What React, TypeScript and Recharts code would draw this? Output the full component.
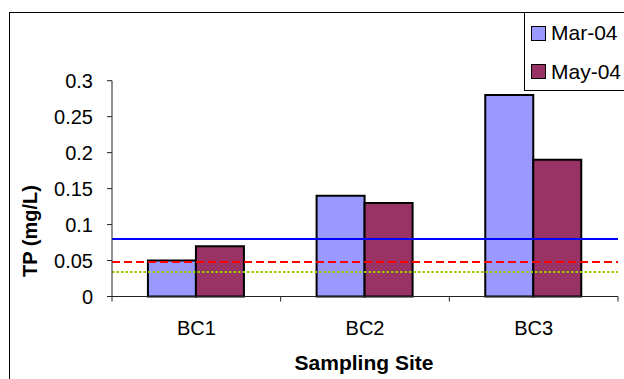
import React from 'react';
import { BarChart, Bar, XAxis, YAxis, ReferenceLine, Label } from 'recharts';

const sites = ['BC1', 'BC2', 'BC3'];
const mar04 = [0.05, 0.14, 0.28];
const may04 = [0.07, 0.13, 0.19];
const seriesNames = ['Mar-04', 'May-04'];
const seriesColors = ['#9999FF', '#993366'];
const yTicks = [0, 0.05, 0.1, 0.15, 0.2, 0.25, 0.3];
const blueLimit = 0.08;
const redLimit = 0.048;
const greenLimit = 0.034;

const data = sites.map((s, i) => ({ site: s, mar: mar04[i], may: may04[i] }));

const W = 624;
const H = 379;
const PLOT_LEFT = 112;
const PLOT_RIGHT = 618;
const FONT = 'Arial, "Liberation Sans", sans-serif';

const XTick = (props: any) => {
  const { x, y, payload, index } = props;
  const half = (PLOT_RIGHT - PLOT_LEFT) / sites.length / 2;
  return (
    <g>
      <line x1={x - half} x2={x - half} y1={y} y2={y + 5} stroke="#222" strokeWidth={1} />
      {index === sites.length - 1 && (
        <line x1={x + half} x2={x + half} y1={y} y2={y + 5} stroke="#222" strokeWidth={1} />
      )}
      <text x={x} y={y + 38.5} textAnchor="middle" fontSize={20} fontFamily={FONT} fill="#000">
        {payload.value}
      </text>
    </g>
  );
};

export default function App() {
  return (
    <div style={{ position: 'absolute', left: 0, top: 0, width: W, height: H, background: '#fff', overflow: 'hidden' }}>
      <BarChart
        width={W}
        height={H}
        data={data}
        margin={{ top: 80.7, right: W - PLOT_RIGHT, bottom: 42.5, left: 0 }}
        barCategoryGap="21.3%"
        barGap={0}
      >
        <XAxis
          dataKey="site"
          height={40}
          stroke="#222"
          tickLine={false}
          tickSize={0}
          tickMargin={0}
          tick={<XTick />}
          interval={0}
        >
          <Label
            content={() => (
              <text x={364} y={370} textAnchor="middle" fontSize={21} fontWeight="bold" fontFamily={FONT} fill="#000">
                Sampling Site
              </text>
            )}
          />
        </XAxis>
        <YAxis
          width={PLOT_LEFT}
          domain={[0, 0.3]}
          ticks={yTicks}
          stroke="#222"
          tickSize={5}
          tickMargin={14}
          tick={{ fontSize: 20, fontFamily: FONT, fill: '#000' }}
        >
          <Label
            content={() => (
              <text
                x={37}
                y={231}
                transform="rotate(-90 37 231)"
                textAnchor="middle"
                fontSize={20}
                fontWeight="bold"
                fontFamily={FONT}
                fill="#000"
              >
                TP (mg/L)
              </text>
            )}
          />
        </YAxis>
        <Bar dataKey="mar" name={seriesNames[0]} fill={seriesColors[0]} stroke="#000" strokeWidth={2} isAnimationActive={false} />
        <Bar dataKey="may" name={seriesNames[1]} fill={seriesColors[1]} stroke="#000" strokeWidth={2} isAnimationActive={false} />
        <ReferenceLine y={blueLimit} stroke="#0000FF" strokeWidth={2} />
        <ReferenceLine y={redLimit} stroke="#FF0000" strokeWidth={2} strokeDasharray="8 4" />
        <ReferenceLine y={greenLimit} stroke="#99CC00" strokeWidth={2} strokeDasharray="2.5 2" />
      </BarChart>
      {/* outer chart frame */}
      <div style={{ position: 'absolute', left: 9, top: 12, width: 700, height: 500, border: '1.5px solid #000', boxSizing: 'border-box' }} />
      {/* legend box */}
      <div
        style={{
          position: 'absolute',
          left: 524,
          top: 12,
          width: 200,
          height: 79,
          border: '1.5px solid #000',
          boxSizing: 'border-box',
          background: '#fff',
          fontFamily: FONT,
          fontSize: 21,
          color: '#000',
        }}
      >
        {seriesNames.map((n, i) => (
          <div key={n} style={{ position: 'absolute', left: 6, top: 9 + i * 38.5, height: 22, display: 'flex', alignItems: 'center' }}>
            <div style={{ width: 15, height: 15, background: seriesColors[i], border: '1.5px solid #000', boxSizing: 'border-box', marginRight: 5 }} />
            <span style={{ lineHeight: '22px' }}>{n}</span>
          </div>
        ))}
      </div>
    </div>
  );
}
